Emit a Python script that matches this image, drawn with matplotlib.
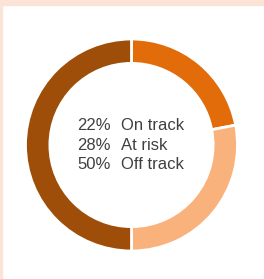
import matplotlib.pyplot as plt
from matplotlib.patches import Rectangle

labels = ['On track', 'At risk', 'Off track']
shares = [22, 28, 50]
colors = ['#E36C0A', '#FAB27C', '#9E4E08']

W, H = 264, 279
fig = plt.figure(figsize=(W / 100, H / 100), dpi=100)
fig.patch.set_facecolor('white')

# peach frame strip along top and left edge
fig.patches.append(Rectangle((0, 1 - 5 / H), 1, 5 / H, transform=fig.transFigure,
                             color='#FBE3D5', zorder=0))
fig.patches.append(Rectangle((0, 0), 1.5 / W, 1, transform=fig.transFigure,
                             color='#FBE3D5', zorder=0))

cx, cy, r = 131.5, 145, 106  # pixels, y from top
ax = fig.add_axes([(cx - r) / W, (H - cy - r) / H, 2 * r / W, 2 * r / H])
ax.pie(shares, colors=colors, startangle=90, counterclock=False, radius=1,
       wedgeprops=dict(width=0.23, edgecolor='white', linewidth=2))
ax.set_xlim(-1, 1)
ax.set_ylim(-1, 1)
ax.set_aspect('equal')
ax.axis('off')

for i, (s, lab) in enumerate(zip(shares, labels)):
    y = 0.18 - i * 0.18
    ax.text(-0.515, y, f'{s}%', fontsize=12, color='#404040',
            family='Liberation Sans', va='center', ha='left')
    ax.text(-0.1, y, lab, fontsize=12, color='#404040',
            family='Liberation Sans', va='center', ha='left')

fig.savefig('out.png', dpi=100)
